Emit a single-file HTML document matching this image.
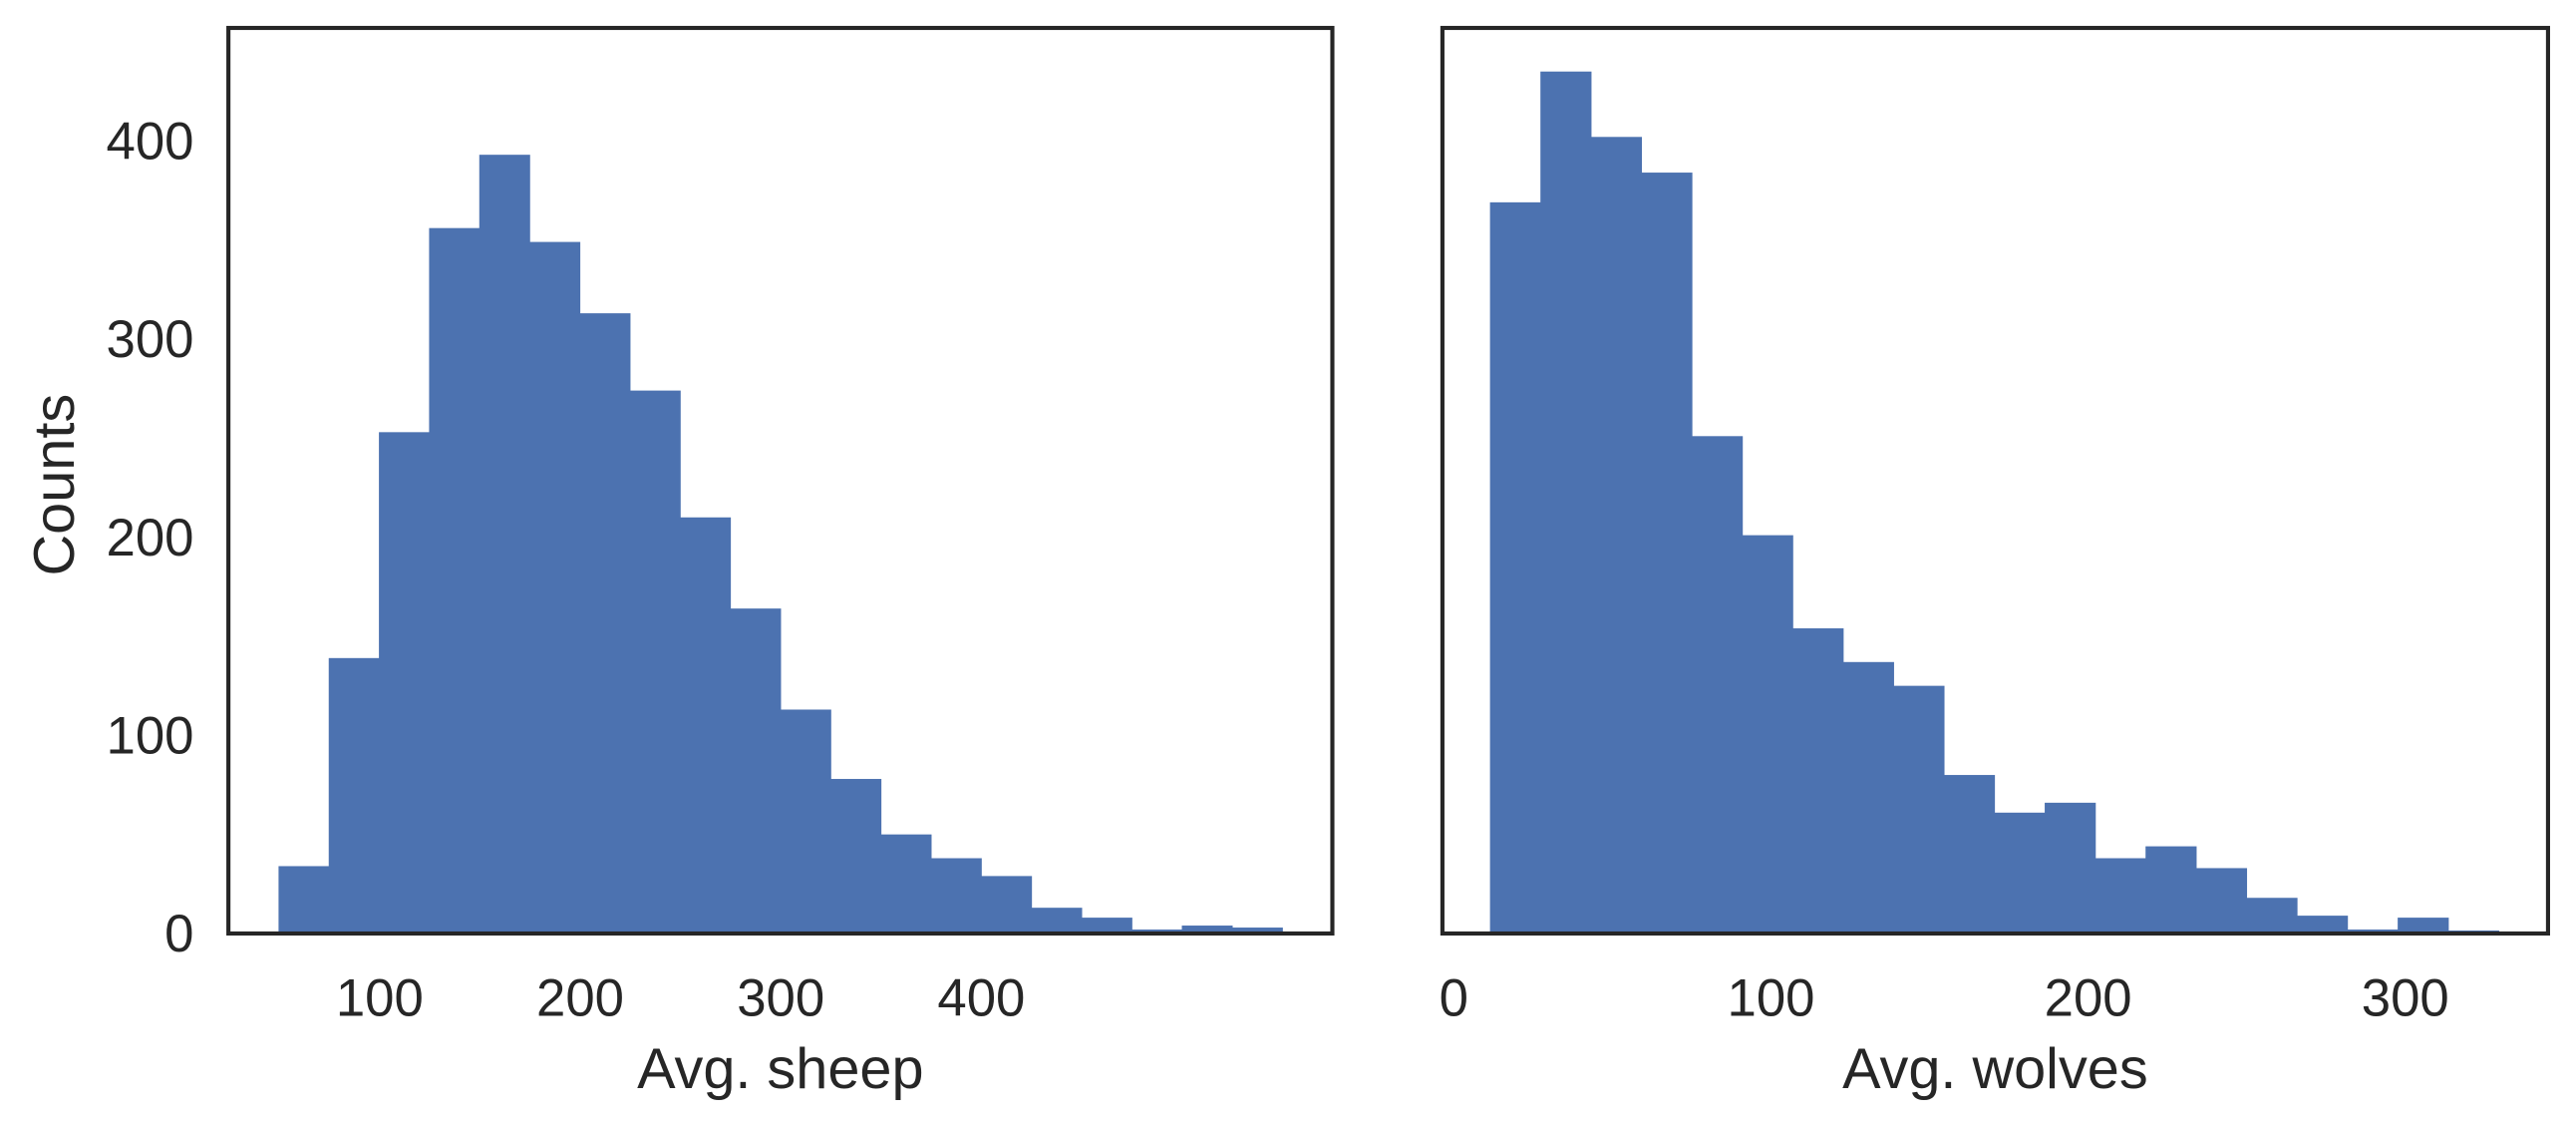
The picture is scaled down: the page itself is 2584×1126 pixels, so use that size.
<!DOCTYPE html>
<html><head><meta charset="utf-8"><style>
html,body{margin:0;padding:0;background:#fff;}
svg{display:block;font-family:"Liberation Sans",sans-serif;}
text{fill:#262626;}
</style></head><body>
<svg id="chart" width="2584" height="1126" viewBox="0 0 1568 683.3" xmlns="http://www.w3.org/2000/svg"></svg>
<script>
const sheepCounts = [34,139,253,356,393,349,313,274,210,164,113,78,50,38,29,13,8,2,4,3];
const sheepBinStart = 49.6;
const sheepBinWidth = 25.02;
const wolvesCounts = [369,435,402,384,251,201,154,137,125,80,61,66,38,44,33,18,9,2,8,1.5];
const wolvesBinStart = 11.4;
const wolvesBinWidth = 15.9;
const yTicks = [0,100,200,300,400];
const sheepXTicks = [100,200,300,400];
const wolvesXTicks = [0,100,200,300];

const NS = "http://www.w3.org/2000/svg";
const svg = document.getElementById('chart');
function mk(tag, attrs, parent){
  const e = document.createElementNS(NS, tag);
  for (const k in attrs) e.setAttribute(k, attrs[k]);
  (parent||svg).appendChild(e);
  return e;
}
const yTop = 17, yBot = 568, yMax = 457;
const yS = v => yBot - v/yMax*(yBot-yTop);

function panel(name, x0, x1, dMin, dMax, counts, start, width, xticks, label, showY){
  const g = mk('g', {});
  
  
  const xS = v => x0 + (v-dMin)/(dMax-dMin)*(x1-x0);
  counts.forEach((c,i)=>{
    const a = xS(start + i*width), b = xS(start + (i+1)*width);
    const r = mk('rect', {x:a, y:yS(c), width:b-a+0.4, height:yBot-yS(c), fill:'#4c72b0'}, g);
    
    
  });
  const f = mk('rect', {x:x0, y:yTop, width:x1-x0, height:yBot-yTop, fill:'none', stroke:'#262626', 'stroke-width':2.5}, g);
  
  
  xticks.forEach(t=>{
    const tx = mk('text', {x:xS(t), y:618, 'font-size':32, 'text-anchor':'middle'}, g);
    tx.textContent = t;
    
    
  });
  const xl = mk('text', {x:(x0+x1)/2, y:662, 'font-size':35, 'text-anchor':'middle'}, g);
  xl.textContent = label;
  
  
  if (showY){
    yTicks.forEach(t=>{
      const ty = mk('text', {x:118, y:yS(t)+11, 'font-size':32, 'text-anchor':'end'}, g);
      ty.textContent = t;
      
      
    });
    const yl = mk('text', {x:0, y:0, 'font-size':35, 'text-anchor':'middle', transform:'translate(45,295) rotate(-90)'}, g);
    yl.textContent = 'Counts';
    
    
  }
}
panel('sheep', 139, 811, 24.6, 575, sheepCounts, sheepBinStart, sheepBinWidth, sheepXTicks, 'Avg. sheep', true);
panel('wolves', 878, 1551, -3.6, 345, wolvesCounts, wolvesBinStart, wolvesBinWidth, wolvesXTicks, 'Avg. wolves', false);
</script>
</body></html>
